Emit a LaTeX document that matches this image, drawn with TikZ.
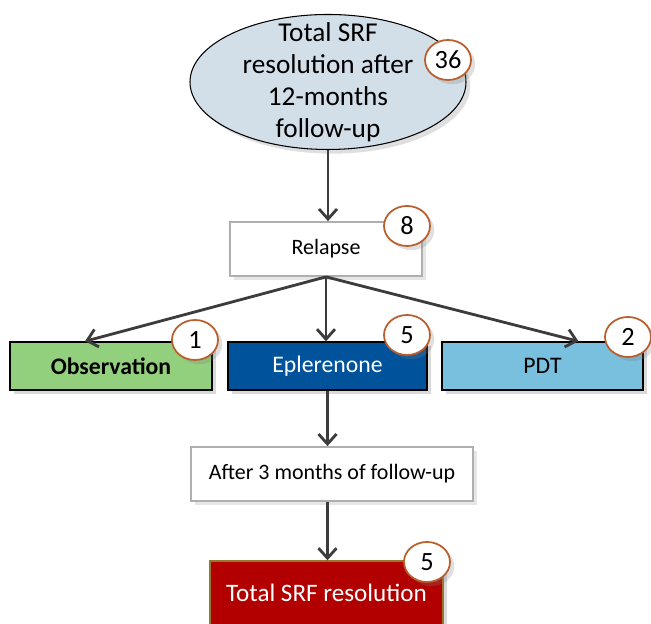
\documentclass[tikz,border=0pt]{standalone}
\usepackage{fontspec}
\setmainfont{Carlito}
\usepackage{tikz}
\usetikzlibrary{shapes.geometric, arrows.meta, positioning, calc, shadows}
\definecolor{mydark}{RGB}{60,60,60}
\definecolor{myorange}{RGB}{185,95,45}
\definecolor{mygrey}{RGB}{175,175,175}
\definecolor{hdrsky}{RGB}{210,222,232}
\definecolor{hdrgreen}{RGB}{146,208,126}
\definecolor{hdrnavy}{RGB}{0,82,155}
\definecolor{hdrcyan}{RGB}{120,192,222}
\definecolor{hdrred}{RGB}{178,0,0}
\definecolor{myolive}{RGB}{150,120,40}
\tikzset{
  bubble/.style={ellipse, draw=black, fill=hdrsky, inner sep=0pt,
    minimum width=5.52cm, minimum height=2.7cm,
    line width=0.6pt, drop shadow={opacity=0.25}},
  plainbox/.style={rectangle, draw=mygrey, fill=white, align=center,
    minimum height=1.08cm, font=\fontsize{12.5}{15}\selectfont, line width=1pt,
    drop shadow={opacity=0.2}},
  armbox/.style={rectangle, draw=black, align=center,
    minimum height=0.96cm, font=\fontsize{13.5}{16}\selectfont, line width=0.8pt,
    drop shadow={opacity=0.3}},
  badge/.style={ellipse, draw=myorange, fill=white, minimum width=0.92cm,
    minimum height=0.8cm, inner sep=0pt, font=\fontsize{15}{18}\selectfont,
    line width=1pt, drop shadow={opacity=0.25}},
  arrow/.style={-{Straight Barb[length=2mm, width=3.6mm]}, line width=1.6pt, color=mydark}
}
\begin{document}
\begin{tikzpicture}
  \useasboundingbox (0,0) rectangle (13.02,12.48);

  % Top
  \node[bubble, label={[align=center, font=\fontsize{15.5}{18.2}\selectfont]center:Total SRF\\resolution after\\12-months\\follow-up}] (total) at (6.56, 10.84) {};
  \node[badge] (n36) at (8.96, 11.28) {36};

  % Relapse
  \node[plainbox, minimum width=3.84cm] (relapse) at (6.52, 7.50) {Relapse};
  \node[badge] (n8) at (8.14, 7.96) {8};

  % Treatment arms
  \node[armbox, fill=hdrgreen, minimum width=4.04cm] (obs) at (2.22, 5.16) {\textbf{Observation}};
  \node[armbox, fill=hdrnavy, text=white, minimum width=3.98cm] (eple) at (6.55, 5.16) {Eplerenone};
  \node[armbox, fill=hdrcyan, minimum width=4.02cm] (pdt) at (10.85, 5.16) {PDT};
  \node[badge] (n1) at (3.90, 5.68) {1};
  \node[badge] (n5) at (8.14, 5.78) {5};
  \node[badge] (n2) at (12.56, 5.74) {2};

  % Follow-up
  \node[plainbox, minimum width=5.64cm] (after) at (6.64, 3.00) {After 3 months of follow-up};
  \node[armbox, fill=hdrred, draw=myolive, text=white, minimum width=4.66cm,
    minimum height=1.28cm, font=\fontsize{14.3}{17}\selectfont] (resol) at (6.53, 0.62) {Total SRF resolution};
  \node[badge] (n5b) at (8.54, 1.24) {5};

  % Arrows
  \draw[arrow] (total.south) -- (total.south |- relapse.north);
  \draw[arrow] (relapse.south) -- ($(obs.north)+(-0.52,0)$);
  \draw[arrow] (relapse.south) -- (relapse.south |- eple.north);
  \draw[arrow] (relapse.south) -- ($(pdt.north)+(0.72,0)$);
  \draw[arrow] (eple.south) -- (eple.south |- after.north);
  \draw[arrow] (after.south -| eple.south) -- (eple.south |- resol.north);
\end{tikzpicture}
\end{document}
